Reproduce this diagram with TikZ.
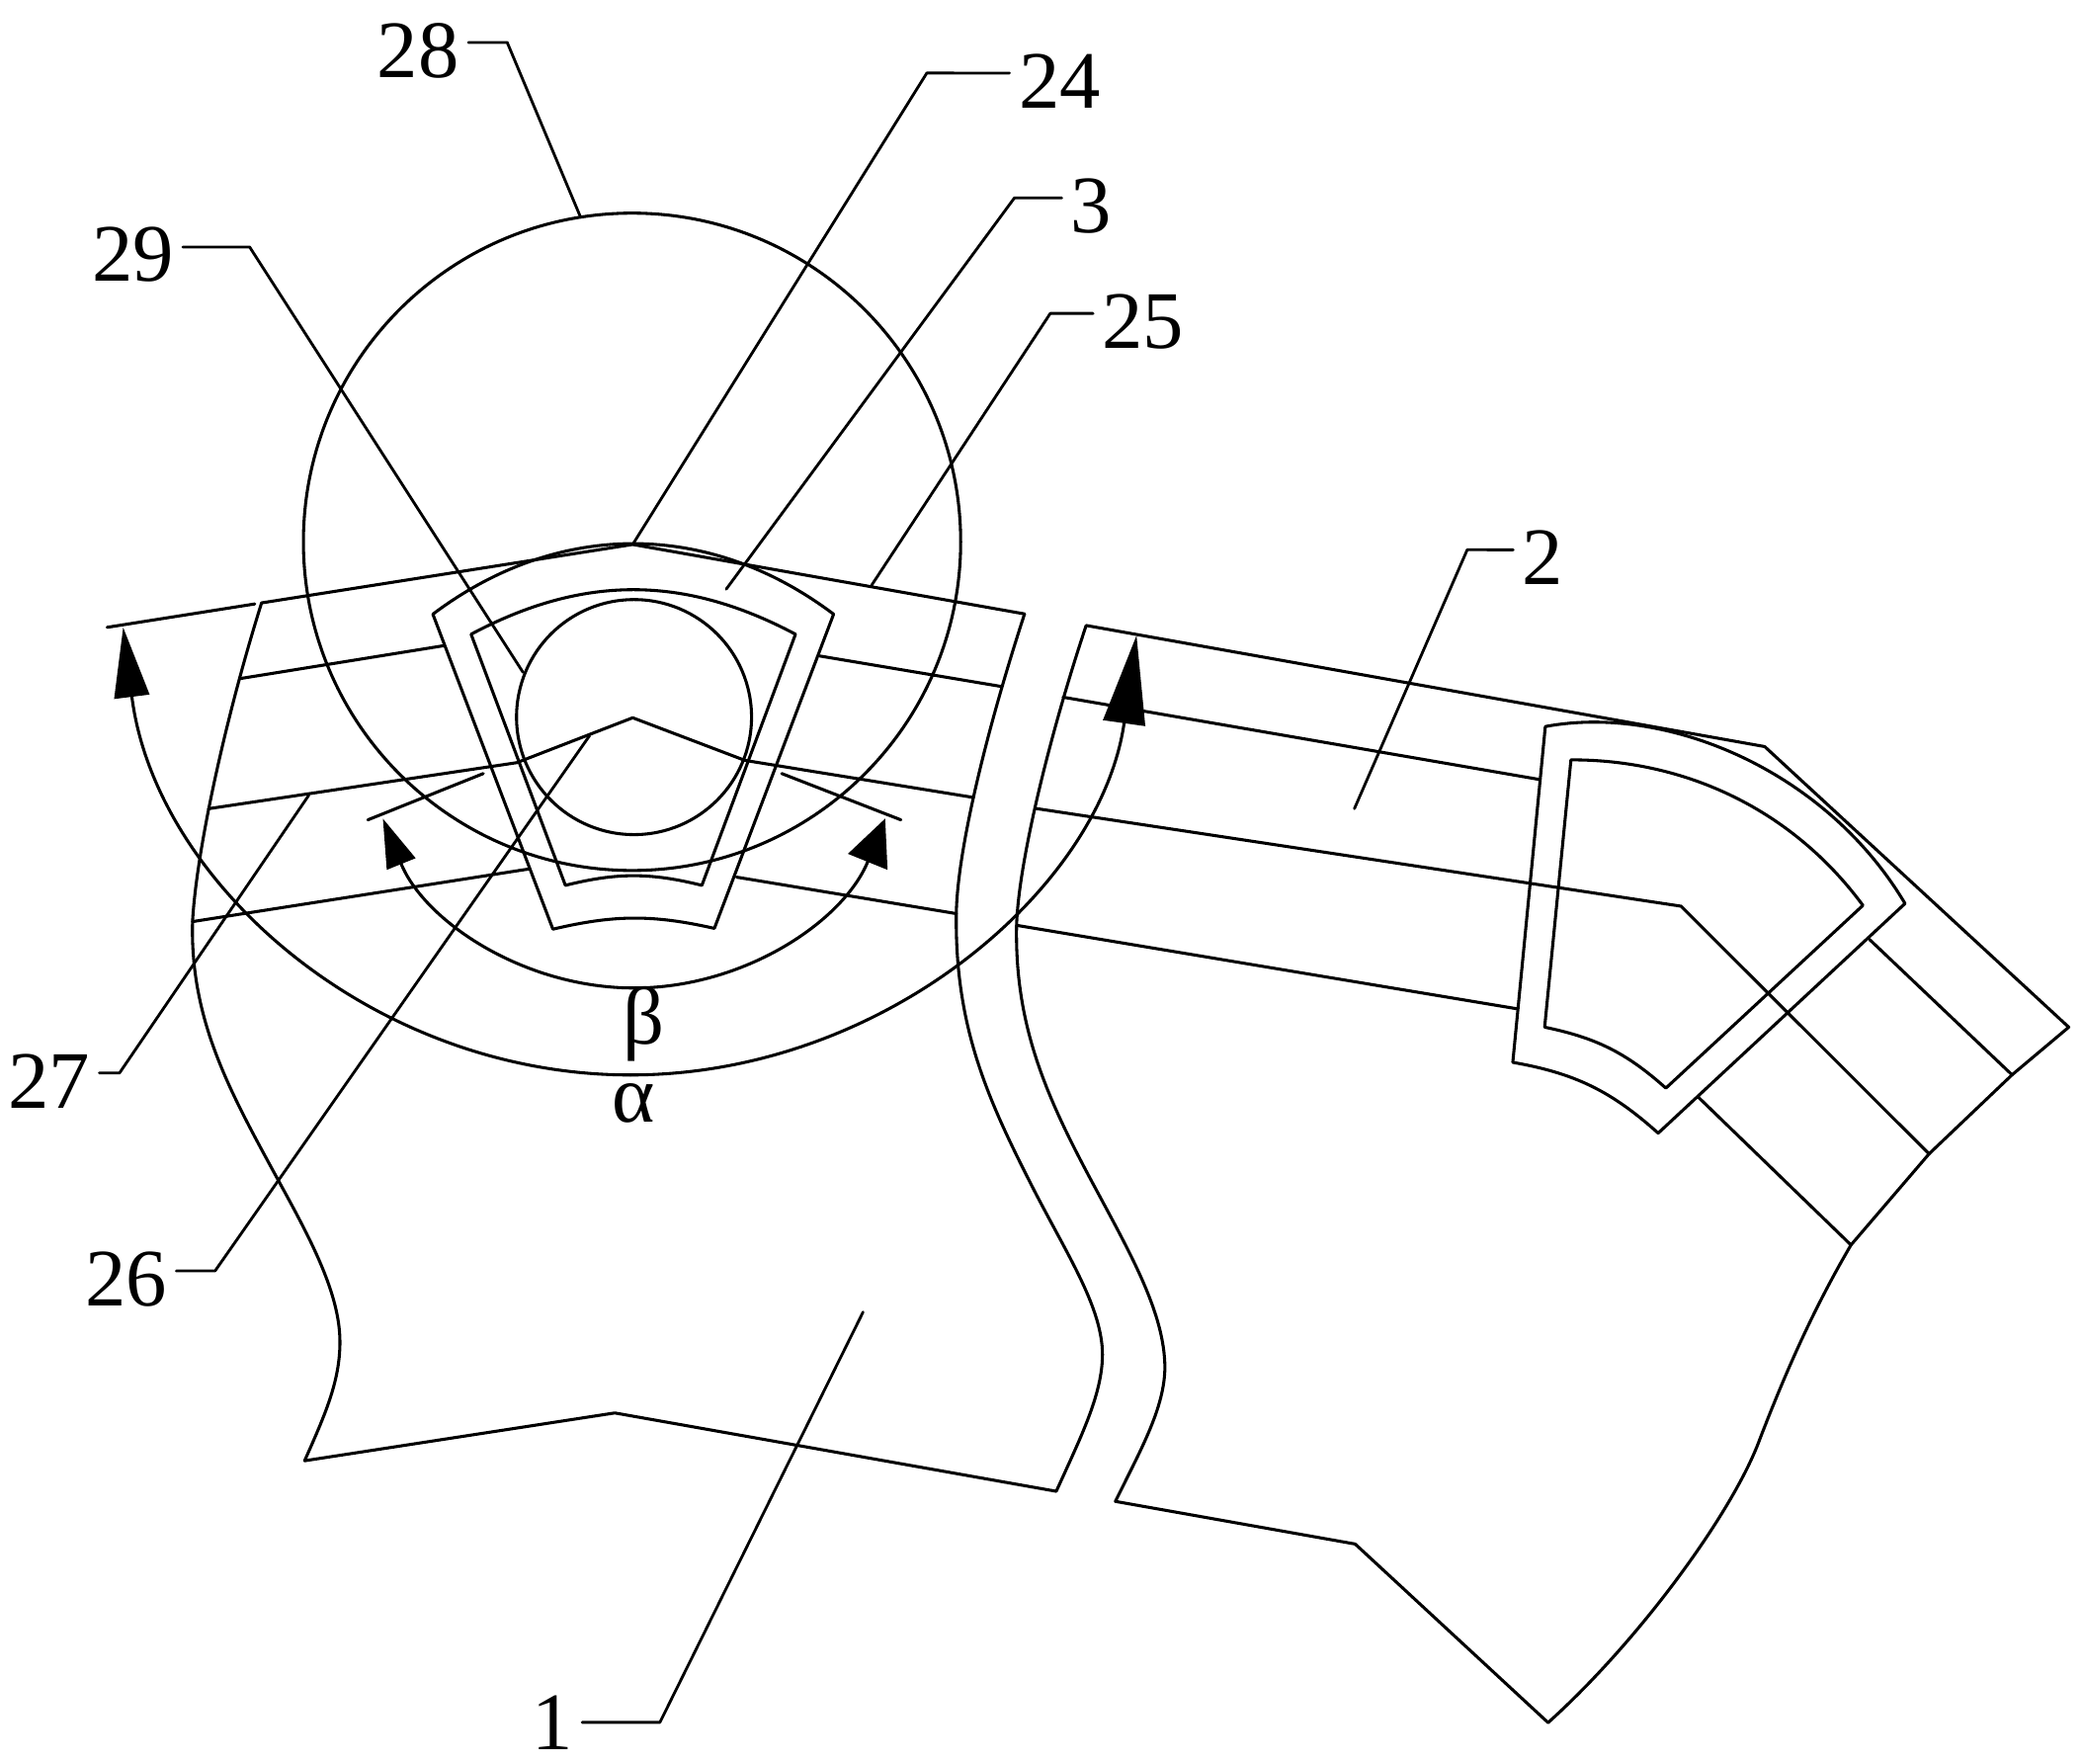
\documentclass[tikz,border=0pt]{standalone}
\usepackage{fontspec}
\setmainfont{Liberation Serif}
\usepackage{xcolor}
\usetikzlibrary{calc,arrows.meta}
\tikzset{
  part/.style={draw=black, line width=1.3pt, line cap=round, line join=round},
  lead/.style={draw=black, line width=1.2pt, line cap=round, line join=round},
  angmark/.style 2 args={part, -{Triangle[length=#1,width=#2]}},
  lab/.style={inner sep=0pt, outer sep=4pt, font=\fontsize{35}{35}\selectfont},
}

\begin{document}
\begin{tikzpicture}[x=0.02cm,y=-0.02cm]
  \useasboundingbox (0,0) rectangle (1568,1327.7);
  \def\up{3.4pt}
  \coordinate (Ob) at (476,408);   % big circle
  \coordinate (Os) at (477.5,540); % small circle
  \coordinate (Oa) at (474.75,424.5);

  % left block
  \coordinate (L1) at (197,454);
  \coordinate (L2) at (180.8,511);
  \coordinate (L3) at (157,609);
  \coordinate (L4) at (145,694);
  \coordinate (R1) at (771.6,462.3);
  \coordinate (R2) at (754.4,517);
  \coordinate (R3) at (733,600.5);
  \coordinate (R4) at (720.2,688);
  \coordinate (P) at (476.5,410);
  \coordinate (V) at (476.5,540.5);
  \draw[part] (L1) -- (P) -- (R1);
  \draw[part] (L1) .. controls (170,540) and (148,640) .. (L4)
    .. controls (143,770) and (175,825) .. (210,889.6)
    .. controls (235,935) and (256,975) .. (256,1010.6)
    .. controls (256,1040) and (245,1065) .. (229.4,1100)
    -- (463,1064) -- (795.5,1123)
    .. controls (815,1080) and (830,1050) .. (830.3,1020)
    .. controls (830,985) and (805,947) .. (779,896.7)
    .. controls (745,830) and (719,775) .. (R4)
    .. controls (721,640) and (743,550) .. (R1);
  \draw[part] (L2) -- (334.4,486.2);
  \draw[part] (617.4,494) -- (R2);
  \draw[part] (L3) -- (390,574.2);
  \draw[part] (V) -- (561,572.6) -- (R3);
  \draw[part] (L4) -- (398.1,654.4);
  \draw[part] (554.7,660.5) -- (R4);

  % wedge parts in the left block
  \draw[part] (326,462.5) to[bend left=37] (627.8,462.5) -- (538,699.1) to[bend right=13] (416.4,699.7) -- cycle;
  \draw[part] (354.8,477.6) to[bend left=28] (599.1,477.6) -- (528.6,666.7) to[bend right=14] (425.8,666.7) -- cycle;
  \draw[part] (Os) circle[radius=88.5];
  \draw[part] (Ob) circle[radius=247.5];

  % angle marks
  \draw[part] (V) -- (390,574);
  \draw[part] (364,582.5) -- (277,617.4);
  \draw[part] (588.7,582.5) -- (678.5,617.4);
  \draw[part] (80.7,472.4) -- (191.9,454.8);
  \draw[angmark={21pt}{13pt}] ($(Os)+(90:204)$) arc (90:158:204);
  \draw[angmark={20pt}{18pt}] ($(Os)+(90:204)$) arc (90:22:204);
  \draw[angmark={30pt}{15pt}] ($(Oa)+(90:385)$) arc (90:172.85:385);
  \draw[angmark={38pt}{18pt}] ($(Oa)+(90:385)$) arc (90:8.06:385);
  \node[lab] (beta) at (485,771) {β};
  \node[lab] (alpha) at (477,831) {α};

  % right block
  \coordinate (A1) at (818,471);
  \coordinate (A2) at (800.6,525);
  \coordinate (A3) at (780,608.8);
  \coordinate (A4) at (765.6,696.8);
  \coordinate (T) at (1329,562.2);
  \coordinate (E) at (1558,773.5);
  \coordinate (F1) at (1515.3,809.4);
  \coordinate (F2) at (1452.8,868.9);
  \coordinate (F3) at (1394,937.5);
  \coordinate (K) at (1266,682.4);
  \draw[part] (A1) -- (T) -- (E) -- (F1) -- (F2) -- (F3)
    .. controls (1365,987) and (1344,1035) .. (1323.9,1087.5)
    .. controls (1303,1141) and (1235,1235) .. (1165.9,1297.2)
    -- (1020.6,1162.7) -- (840,1130.6)
    .. controls (860,1090) and (877,1060) .. (877.3,1029.6)
    .. controls (877,990) and (853,947) .. (826,896.7)
    .. controls (790,830) and (764,775) .. (A4)
    .. controls (767,650) and (790,555) .. (A1);
  \draw[part] (A2) -- (1159.5,587);
  \draw[part] (A3) -- (K) -- (F2);
  \draw[part] (A4) -- (1142.2,759.6);
  \draw[part] (1407.9,707.4) -- (F1);
  \draw[part] (1279,826.2) -- (F3);

  % elbow parts in the right block
  \draw[part] (1163.8,547.1) .. controls (1255,530) and (1375,580) .. (1434.7,680.4)
    -- (1248.8,853.3) to[bend right=16] (1139.3,800) -- cycle;
  \draw[part] (1183.1,572.2) .. controls (1270,572) and (1350,610) .. (1403,681.8)
    -- (1254.6,819.4) to[bend right=15] (1163.3,773.5) -- cycle;

  % labels and leaders
  \node[lab] (n28) at (315,38) {28};
  \node[lab] (n24) at (798,61) {24};
  \node[lab] (n3) at (822,155) {3};
  \node[lab] (n25) at (861,242) {25};
  \node[lab] (n29) at (100,192) {29};
  \node[lab] (n27) at (37,814) {27};
  \node[lab] (n26) at (95,963) {26};
  \node[lab] (n2) at (1162,420) {2};
  \node[lab] (n1) at (416,1297) {1};
  \draw[lead] ([yshift=\up]n28.east) -- (382,32) -- (437,163);
  \draw[lead] ([yshift=\up]n24.west) -- (698,55) -- (P);
  \draw[lead] ([yshift=\up]n3.west) -- (764,149) -- (546.9,443.7);
  \draw[lead] ([yshift=\up]n25.west) -- (791,236) -- (656.5,440.6);
  \draw[lead] ([yshift=\up]n29.east) -- (188,186) -- (393.9,506.3);
  \draw[lead] ([yshift=\up]n27.east) -- (90,808) -- (232.6,598.8);
  \draw[lead] ([yshift=\up]n26.east) -- (162,957) -- (444,554);
  \draw[lead] ([yshift=\up]n2.west) -- (1105,414) -- (1020,609);
  \draw[lead] (n1.east) -- (497,1297) -- (650,988);
\end{tikzpicture}
\end{document}
